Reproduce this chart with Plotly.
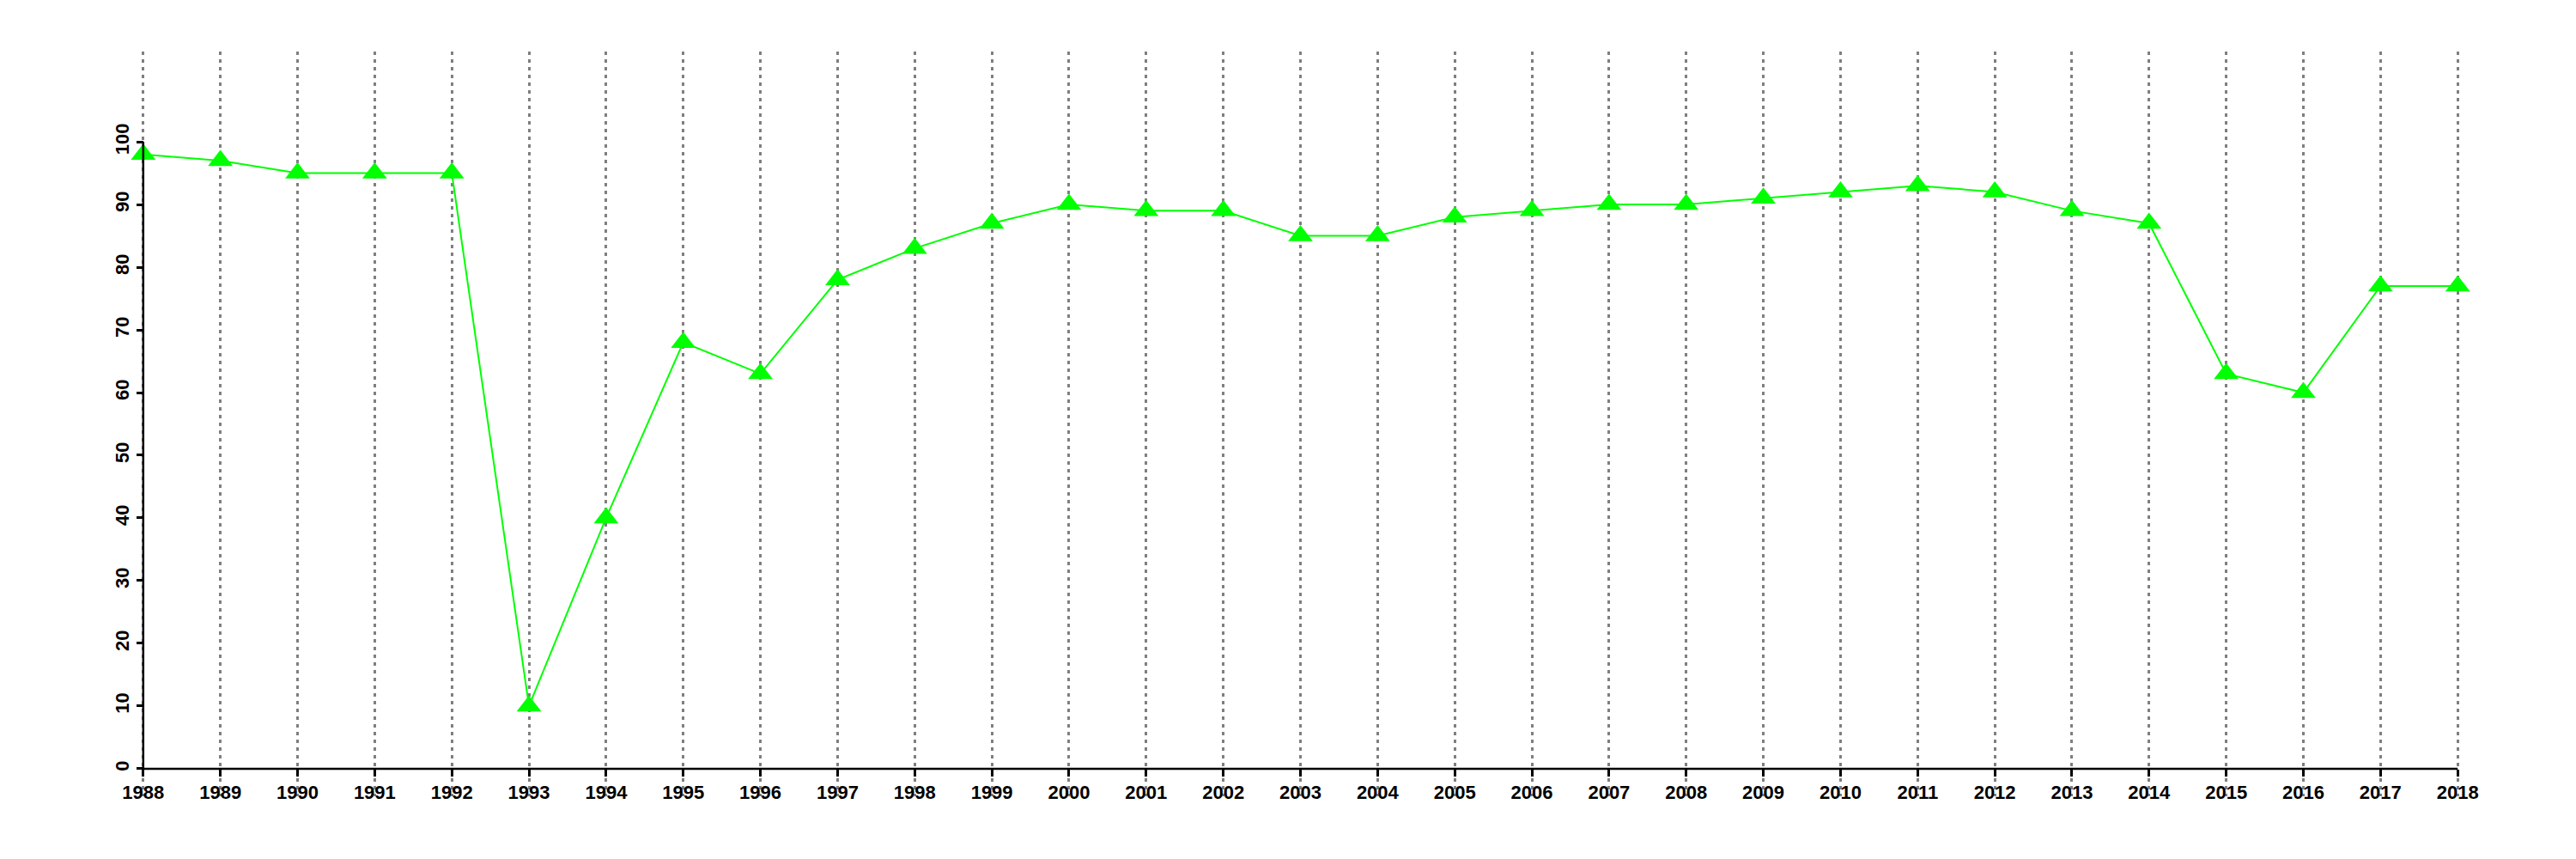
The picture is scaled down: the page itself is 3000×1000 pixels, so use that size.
import plotly.graph_objects as go

years = list(range(1988, 2019))
values = [98, 97, 95, 95, 95, 10, 40, 68, 63, 78, 83, 87, 90, 89, 89, 85, 85,
          88, 89, 90, 90, 91, 92, 93, 92, 89, 87, 63, 60, 77, 77]
y_ticks = [0, 10, 20, 30, 40, 50, 60, 70, 80, 90, 100]

xr = [1986.8, 2019.2]
yr = [-4.4, 114.4]

fig = go.Figure()
fig.add_trace(go.Scatter(
    x=years, y=values, mode="lines+markers",
    line=dict(color="#00FF00", width=2),
    marker=dict(symbol="triangle-up", size=25, color="#00FF00"),
    showlegend=False, cliponaxis=False,
))

# axis lines spanning only the data range (R style)
fig.add_shape(type="line", xref="x", yref="y", x0=years[0], x1=years[-1], y0=0, y1=0,
              line=dict(color="black", width=2.5), layer="above")
fig.add_shape(type="line", xref="x", yref="y", x0=years[0], x1=years[0], y0=y_ticks[0], y1=y_ticks[-1],
              line=dict(color="black", width=2.5), layer="above")

font = dict(family="Liberation Sans", size=22, color="black", weight="bold")
fig.update_layout(
    width=2984, height=984,
    margin=dict(l=51, r=22, t=52, b=65),
    plot_bgcolor="white", paper_bgcolor="white",
    xaxis=dict(range=xr, tickmode="array", tickvals=years, ticktext=[str(y) for y in years],
               showgrid=True, gridcolor="#7f7f7f", griddash="4px,5px", gridwidth=2.5,
               zeroline=False, showline=False, ticks="outside", ticklen=8, tickwidth=2.5,
               tickcolor="black", anchor="free", position=(0 - yr[0]) / (yr[1] - yr[0]),
               tickfont=font, tickangle=0),
    yaxis=dict(range=yr, tickmode="array", tickvals=y_ticks, ticktext=[str(v) for v in y_ticks],
               showgrid=False, zeroline=False, showline=False, ticks="outside", ticklen=8,
               tickwidth=2.5, tickcolor="black", anchor="free",
               position=(years[0] - xr[0]) / (xr[1] - xr[0]),
               tickfont=font, tickangle=-90),
)
fig.write_html("out.html")
